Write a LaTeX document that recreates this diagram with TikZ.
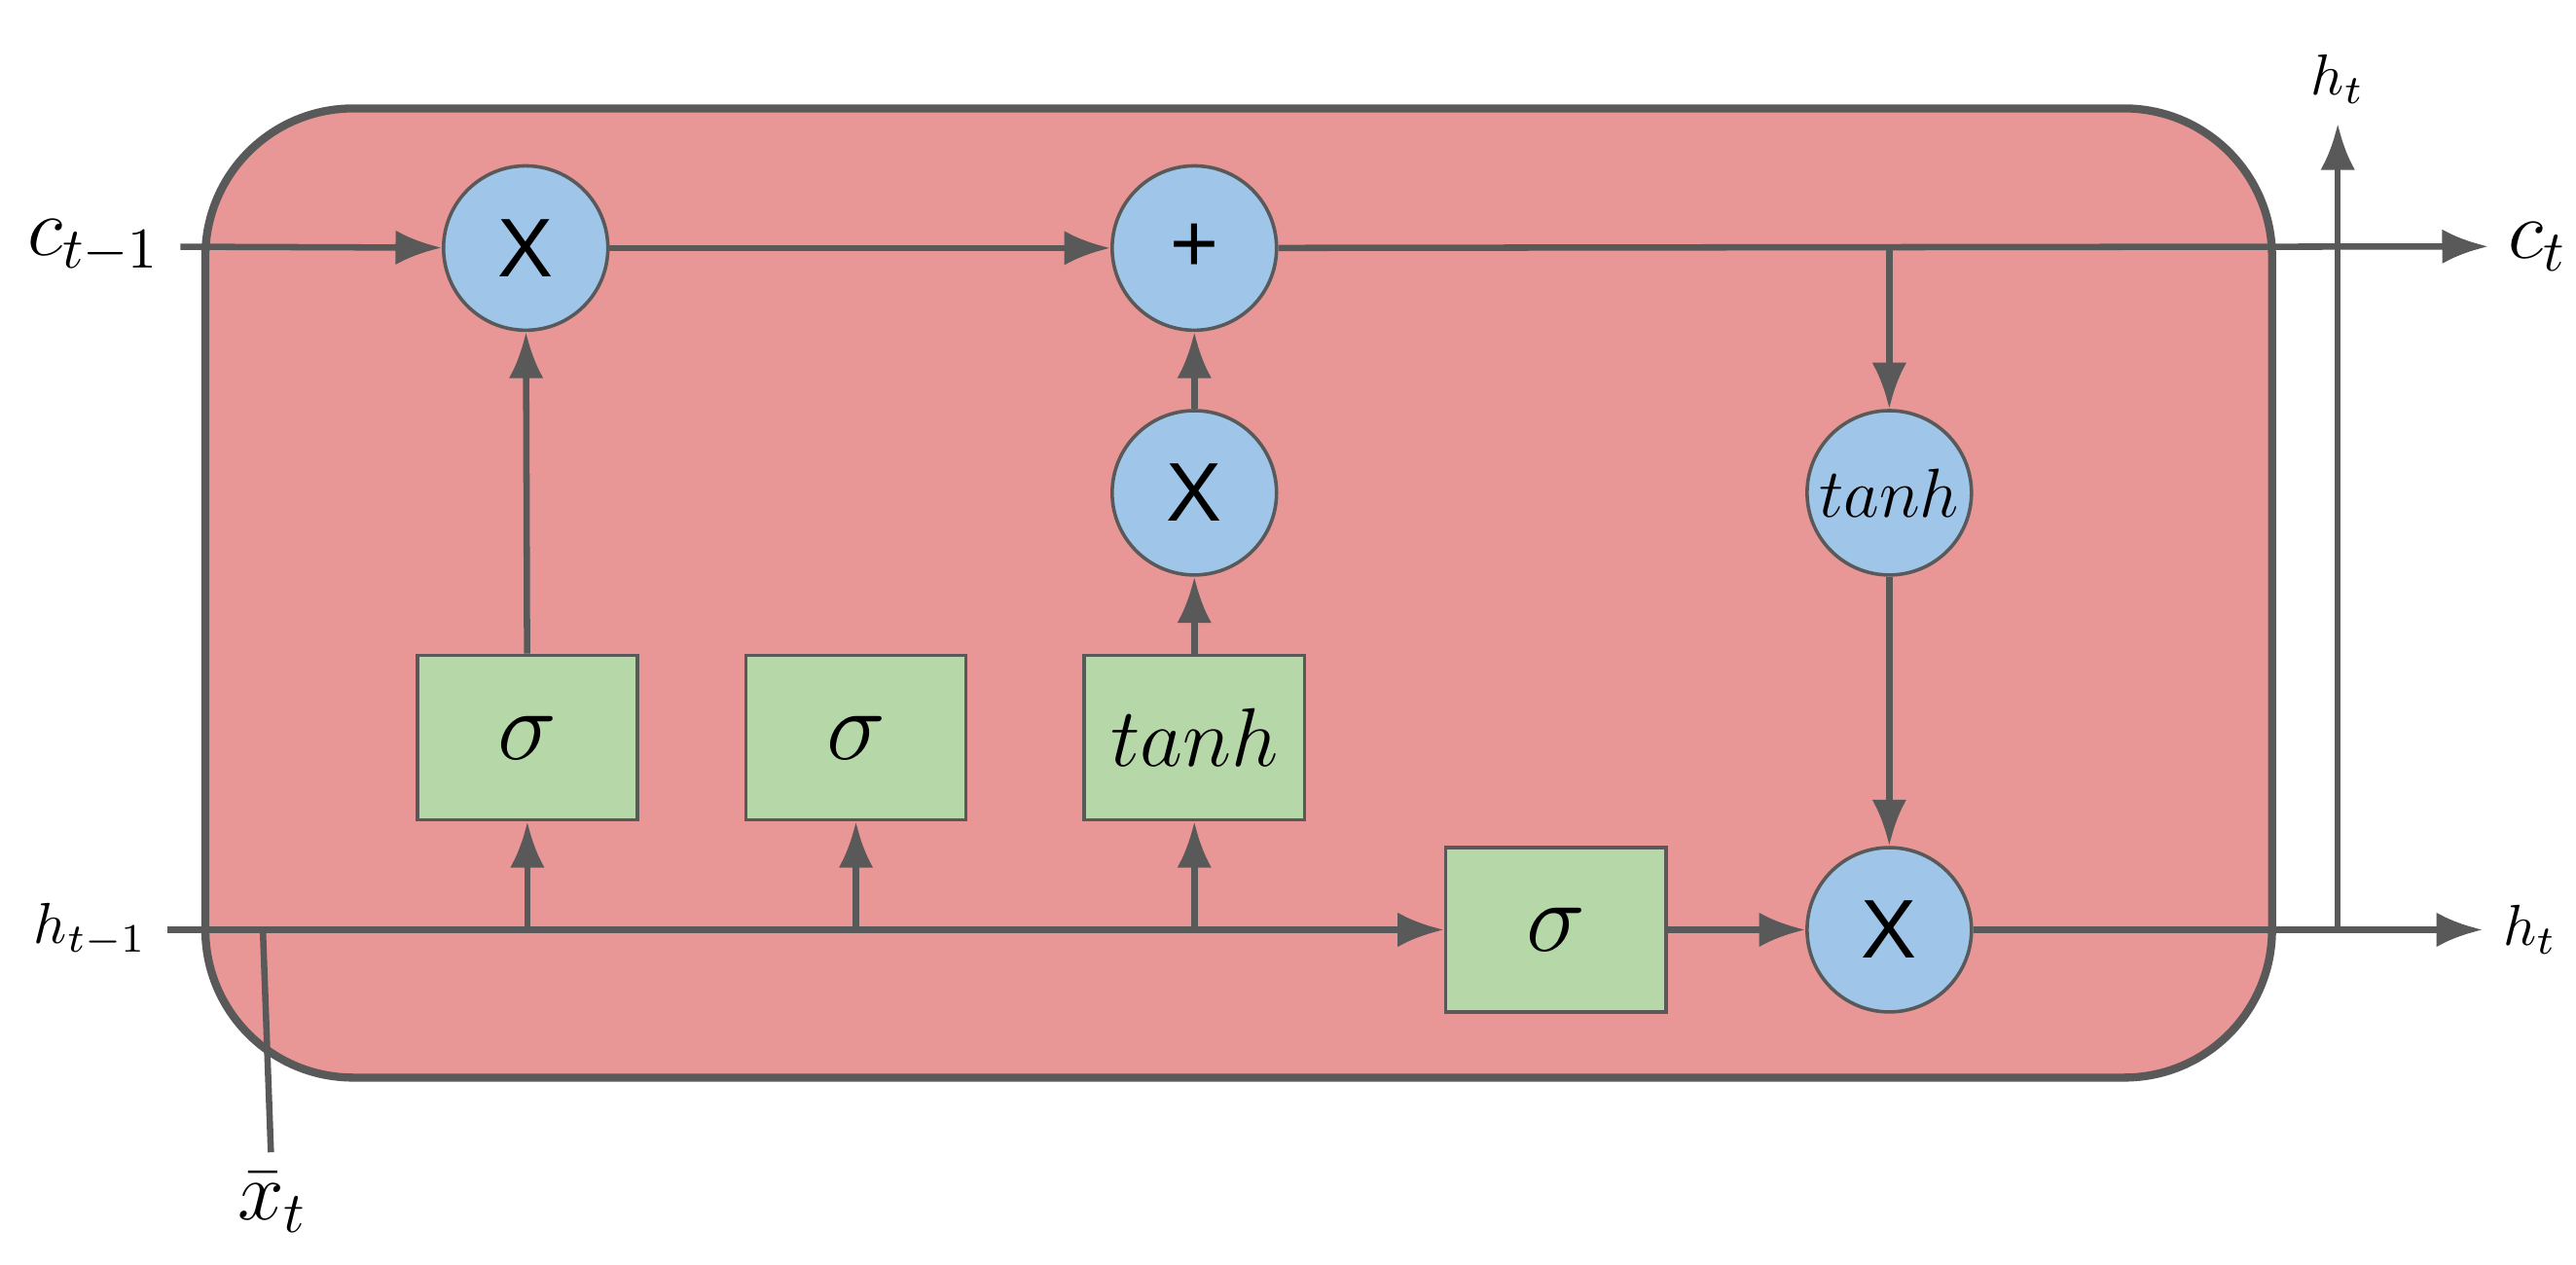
\documentclass[tikz,border=0pt]{standalone}
\usepackage{fontspec}
\newfontfamily\sansf{Liberation Sans}
\usetikzlibrary{arrows.meta}
\definecolor{ln}{HTML}{595959}
\definecolor{cell}{HTML}{E99696}
\definecolor{blu}{HTML}{9FC5E8}
\definecolor{grn}{HTML}{B6D7A8}
\begin{document}
\begin{tikzpicture}[x=0.01cm,y=-0.01cm,
  op/.style={circle,draw=ln,line width=0.6pt,fill=blu,minimum size=1cm,inner sep=0pt,font=\sansf\Large},
  gate/.style={draw=ln,line width=0.6pt,fill=grn,minimum width=1.34cm,minimum height=1cm,inner sep=0pt,font=\LARGE},
  w/.style={draw=ln,line width=1.1pt},
  a/.style={w,-{Latex[length=8pt,width=6pt]}},
  lab/.style={font=\Large}]
\useasboundingbox (0,0) rectangle (1568,770);
\draw[ln,line width=1.4pt,fill=cell,rounded corners=0.9cm] (125,66) rectangle (1383,656);
\node[op] (x1) at (320,151) {X};
\node[op] (pl) at (727,151) {+};
\node[op] (x2) at (727,300) {X};
\node[op,font=\large] (th) at (1150,300) {$tanh$};
\node[op] (x3) at (1150,566) {X};
\node[gate] (s1) at (321,449) {$\sigma$};
\node[gate] (s2) at (521,449) {$\sigma$};
\node[gate,font=\Large] (tb) at (727,449) {$tanh$};
\node[gate] (s3) at (947,566) {$\sigma$};
\node[lab] (cin) at (57,150) {$c_{t-1}$};
\node[lab] (cout) at (1545,150) {$c_t$};
\node (hin) at (55,566) {$h_{t-1}$};
\node (hout) at (1540,566) {$h_t$};
\node (hup) at (1423,48) {$h_t$};
\node[lab] (xt) at (166,732) {$\bar{x}_t$};
\coordinate (b1) at (321,566);
\coordinate (b2) at (521,566);
\coordinate (b3) at (727,566);
\coordinate (bc) at (1150,151);
\coordinate (bh) at (1423,566);
\coordinate (bx) at (160,566);
\draw[a] (cin) -- (x1);
\draw[a] (x1) -- (pl);
\draw[a] (pl) -- (cout);
\draw[a] (bc) -- (th);
\draw[a] (th) -- (x3);
\draw[a] (hin) -- (s3);
\draw[a] (b1) -- (s1);
\draw[a] (b2) -- (s2);
\draw[a] (b3) -- (tb);
\draw[a] (s1) -- (x1);
\draw[a] (tb) -- (x2);
\draw[a] (x2) -- (pl);
\draw[a] (s3) -- (x3);
\draw[a] (x3) -- (hout);
\draw[a] (bh) -- (hup);
\draw[w] (xt) -- (bx);
\end{tikzpicture}
\end{document}
